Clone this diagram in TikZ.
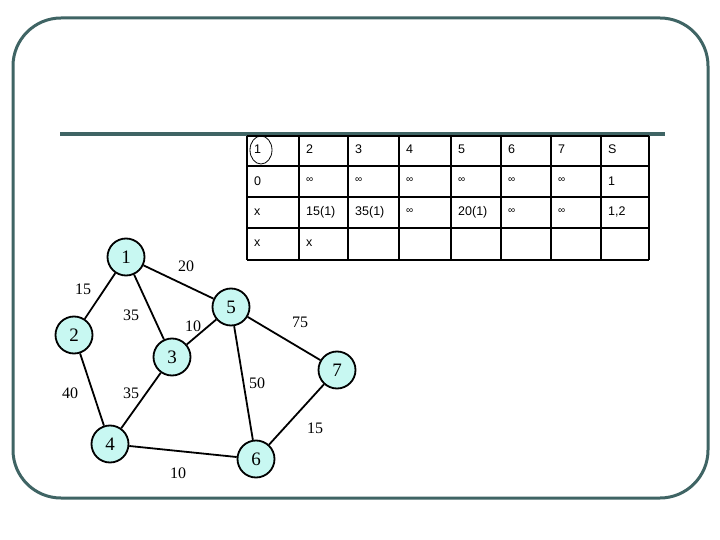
\documentclass[tikz,border=0pt]{standalone}
\usepackage{fontspec}
\setmainfont{Liberation Serif}
\newfontfamily\tabfont{Liberation Sans}
\definecolor{frame}{RGB}{63,100,100}
\definecolor{nodefill}{RGB}{200,248,242}
\begin{document}
\begin{tikzpicture}[x=1pt,y=-1pt,
  vert/.style={circle,draw=black,line width=1.8pt,fill=nodefill,minimum size=37pt,inner sep=0pt,font=\fontsize{19}{19}\selectfont},
  edge/.style={draw=black,line width=1.8pt},
  wlab/.style={font=\fontsize{16}{16}\selectfont,inner sep=0pt},
  cell/.style={font=\tabfont\fontsize{12.5}{12.5}\selectfont,anchor=west,inner sep=0pt},
  inf/.style={font=\tabfont\fontsize{10}{10}\selectfont,anchor=west,inner sep=0pt},
  grid/.style={draw=black,line width=2.2pt}]
\useasboundingbox (0,0) rectangle (720,540);
\draw[frame,line width=3pt,rounded corners=48pt] (13,18) rectangle (708,498);
\draw[frame,line width=4pt] (60,134) -- (665,134);
% table
\foreach \y in {136,166,197,228,260} \draw[grid] (247,\y) -- (649,\y);
\foreach \x in {247,299,348,399,451,501,551,601,649} \draw[grid] (\x,136) -- (\x,260);
\foreach \t [count=\i from 0] in {1,2,3,4,5,6,7,S}{
  \pgfmathsetmacro{\xx}{{247,299,348,399,451,501,551,601}[\i]}
  \node[cell] (h\i) at (\xx+7,149) {\t};
}
\draw[line width=0.8pt] (261,150) ellipse (11pt and 14pt);
\node[cell] (r0) at (254,181) {0};
\foreach \i in {1,...,6}{
  \pgfmathsetmacro{\xx}{{247,299,348,399,451,501,551,601}[\i]}
  \node[inf] (r\i) at (\xx+7,180) {∞};
}
\node[cell] (r7) at (608,181) {1};
\foreach \t [count=\i from 0] in {x,15(1),35(1),,20(1),,,{1,2}}{
  \pgfmathsetmacro{\xx}{{247,299,348,399,451,501,551,601}[\i]}
  \node[cell] (s\i) at (\xx+7,212) {\t};
}
\node[inf] (s3x) at (406,211) {∞};
\node[inf] (s5x) at (508,211) {∞};
\node[inf] (s6x) at (558,211) {∞};
\node[cell] (t0) at (254,243) {x};
\node[cell] (t1) at (306,243) {x};
% graph
\node[vert] (n1) at (126,257) {1};
\node[vert] (n2) at (74,335) {2};
\node[vert] (n3) at (172,357) {3};
\node[vert] (n4) at (110,444) {4};
\node[vert] (n5) at (231,307) {5};
\node[vert] (n6) at (256,459) {6};
\node[vert] (n7) at (337,370) {7};
\draw[edge] (n1) -- (n2);
\draw[edge] (n1) -- (n3);
\draw[edge] (n1) -- (n5);
\draw[edge] (n5) -- (n3);
\draw[edge] (n5) -- (n6);
\draw[edge] (n5) -- (n7);
\draw[edge] (n2) -- (n4);
\draw[edge] (n3) -- (n4);
\draw[edge] (n4) -- (n6);
\draw[edge] (n6) -- (n7);
\node[wlab] (w15a) at (83,289) {15};
\node[wlab] (w20) at (186,266) {20};
\node[wlab] (w35a) at (131,315) {35};
\node[wlab] (w10a) at (193,326) {10};
\node[wlab] (w75) at (300,322) {75};
\node[wlab] (w40) at (70,393) {40};
\node[wlab] (w35b) at (131,393) {35};
\node[wlab] (w50) at (257,383) {50};
\node[wlab] (w15b) at (315,428) {15};
\node[wlab] (w10b) at (178,473) {10};
\end{tikzpicture}
\end{document}
